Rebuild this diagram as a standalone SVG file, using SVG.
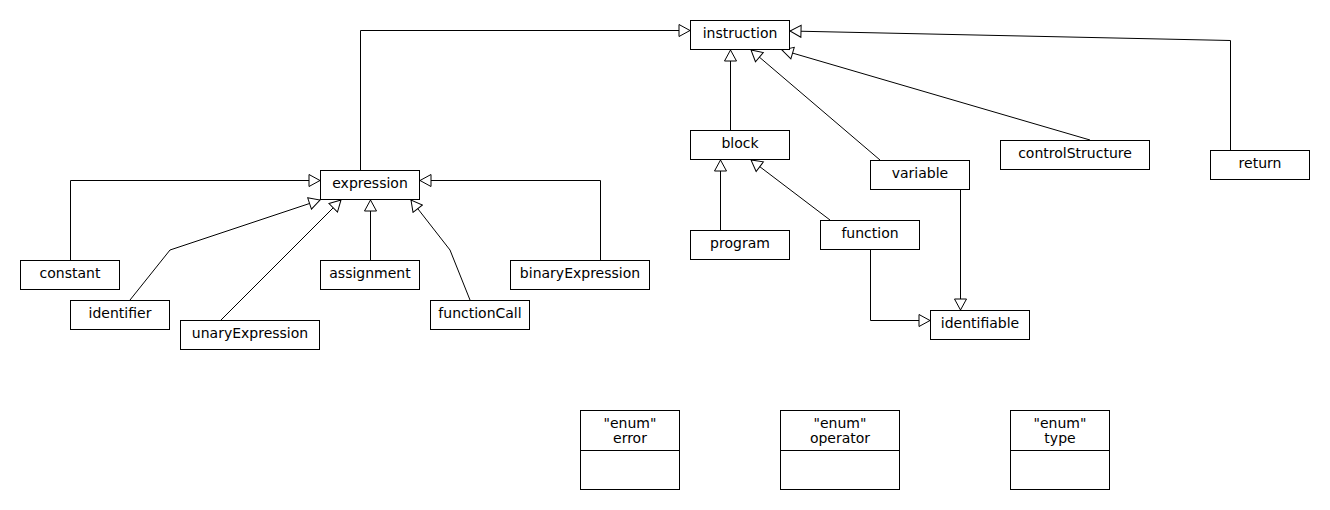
<svg xmlns="http://www.w3.org/2000/svg" width="1330" height="510" viewBox="0 0 1330 510">
<style>
.box rect{fill:#fff;stroke:#000;stroke-width:1}
.box text{font-family:"DejaVu Sans",sans-serif;font-size:14px;fill:#000;text-anchor:middle}
.conn path{fill:none;stroke:#000;stroke-width:1;marker-end:url(#tri)}
line.div{stroke:#000;stroke-width:1}
</style>
<defs>
<marker id="tri" markerUnits="userSpaceOnUse" viewBox="-1 -7 13 14" refX="11" refY="0" markerWidth="13" markerHeight="14" orient="auto">
<path d="M0,-6 L11,0 L0,6 Z" fill="#fff" stroke="#000" stroke-width="1"/>
</marker>
</defs>
<rect width="1330" height="510" fill="#fff"/>
<g class="conn" id="connectors">
<path d="M360.5,170 V30.5 H690"/>
<path d="M730.5,130 V50"/>
<path d="M880,160 L751,50"/>
<path d="M1090,140 L782,50"/>
<path d="M1230.5,150 V40.5 L790,31"/>
<path d="M720.5,230 V160"/>
<path d="M830,220 L751,160"/>
<path d="M960.5,190 V310"/>
<path d="M870.5,250 V320.5 H930"/>
<path d="M70.5,260 V180.5 H320"/>
<path d="M130,300 L170,250 L320,200"/>
<path d="M221,320 L341,200"/>
<path d="M370.5,260 V200"/>
<path d="M470,300 L450,250 L411,200"/>
<path d="M600.5,260 V180.5 H420"/>
</g>
<g class="box" id="instruction"><rect x="690.5" y="20.5" width="99" height="29"/><text x="740" y="37.5">instruction</text></g>
<g class="box" id="expression"><rect x="320.5" y="170.5" width="99" height="29"/><text x="370" y="187.5">expression</text></g>
<g class="box" id="block"><rect x="690.5" y="130.5" width="99" height="29"/><text x="740" y="147.5">block</text></g>
<g class="box" id="variable"><rect x="870.5" y="160.5" width="99" height="29"/><text x="920" y="177.5">variable</text></g>
<g class="box" id="controlStructure"><rect x="1000.5" y="140.5" width="149" height="29"/><text x="1075" y="157.5">controlStructure</text></g>
<g class="box" id="return"><rect x="1210.5" y="150.5" width="99" height="29"/><text x="1260" y="167.5">return</text></g>
<g class="box" id="program"><rect x="690.5" y="230.5" width="99" height="29"/><text x="740" y="247.5">program</text></g>
<g class="box" id="function"><rect x="820.5" y="220.5" width="99" height="29"/><text x="870" y="237.5">function</text></g>
<g class="box" id="identifiable"><rect x="930.5" y="310.5" width="99" height="29"/><text x="980" y="327.5">identifiable</text></g>
<g class="box" id="constant"><rect x="20.5" y="260.5" width="99" height="29"/><text x="70" y="277.5">constant</text></g>
<g class="box" id="identifier"><rect x="70.5" y="300.5" width="99" height="29"/><text x="120" y="317.5">identifier</text></g>
<g class="box" id="unaryExpression"><rect x="180.5" y="320.5" width="139" height="29"/><text x="250" y="337.5">unaryExpression</text></g>
<g class="box" id="assignment"><rect x="320.5" y="260.5" width="99" height="29"/><text x="370" y="277.5">assignment</text></g>
<g class="box" id="functionCall"><rect x="430.5" y="300.5" width="99" height="29"/><text x="480" y="317.5">functionCall</text></g>
<g class="box" id="binaryExpression"><rect x="510.5" y="260.5" width="139" height="29"/><text x="580" y="277.5">binaryExpression</text></g>
<g class="box" id="error"><rect x="580.5" y="410.5" width="99" height="79"/><line class="div" x1="580.5" y1="450.5" x2="679.5" y2="450.5"/><text x="630" y="427.5">"enum"</text><text x="630" y="443">error</text></g>
<g class="box" id="operator"><rect x="780.5" y="410.5" width="119" height="79"/><line class="div" x1="780.5" y1="450.5" x2="899.5" y2="450.5"/><text x="840" y="427.5">"enum"</text><text x="840" y="443">operator</text></g>
<g class="box" id="type"><rect x="1010.5" y="410.5" width="99" height="79"/><line class="div" x1="1010.5" y1="450.5" x2="1109.5" y2="450.5"/><text x="1060" y="427.5">"enum"</text><text x="1060" y="443">type</text></g>
</svg>
